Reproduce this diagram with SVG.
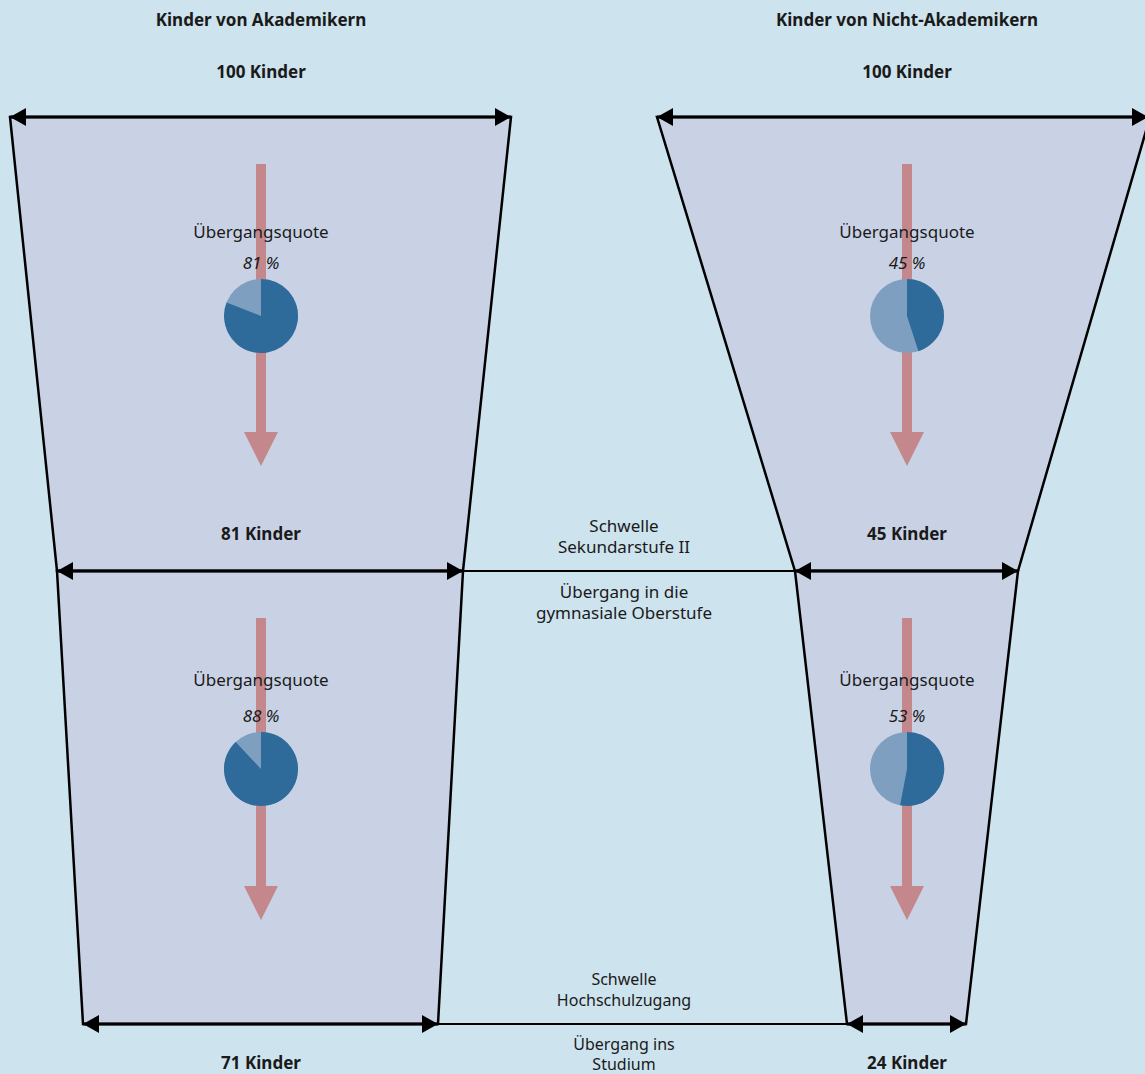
<svg xmlns="http://www.w3.org/2000/svg" width="1145" height="1074" viewBox="0 0 1145 1074">
<style>
.t{font-family:"Noto Sans","Open Sans","Liberation Sans",sans-serif;font-size:17px;fill:#1a1a1a;text-anchor:middle}
.s{font-size:16px}
.b{font-weight:bold;font-size:17px}
.i{font-style:italic}
.trap{fill:#c9d2e5;stroke:#000;stroke-width:2.5;stroke-linejoin:miter}
.dim{stroke:#000;stroke-width:3;fill:none;marker-start:url(#ah);marker-end:url(#ah)}
.thin{stroke:#000;stroke-width:2;fill:none}
.flow{fill:#c4878c}
.pl{fill:#7f9fc0}
.pd{fill:#2e6a9a}
</style>
<defs>
<marker id="ah" viewBox="0 0 16 18" refX="16" refY="9" markerWidth="16" markerHeight="18" markerUnits="userSpaceOnUse" orient="auto-start-reverse">
<path d="M0,0 L16,9 L0,18 z" fill="#000"/>
</marker>
</defs>
<rect width="1145" height="1074" fill="#cde3ee"/>
<g id="akad-top">
<polygon class="trap" points="10,117 511,117 463,571 57,571"/>
<polygon class="flow" points="256,164 266,164 266,432 278,432 261,466 244,432 256,432"/>
<text class="t" x="261" y="238">Übergangsquote</text>
<text class="t i" x="261" y="269">81 %</text>
<circle class="pl" cx="261" cy="316" r="37"/>
<path class="pd" d="M261,316 L261,279 A37,37 0 1 1 226.6,302.4 Z"/>
</g>
<g id="akad-bottom">
<polygon class="trap" points="57,571 463,571 438,1024 83,1024"/>
<polygon class="flow" points="256,618 266,618 266,886 278,886 261,920 244,886 256,886"/>
<text class="t" x="261" y="686">Übergangsquote</text>
<text class="t i" x="261" y="722">88 %</text>
<circle class="pl" cx="261" cy="769" r="37"/>
<path class="pd" d="M261,769 L261,732 A37,37 0 1 1 235.7,742.0 Z"/>
</g>
<g id="nicht-top">
<polygon class="trap" points="657,117 1150,117 1018,571 795,571"/>
<polygon class="flow" points="902,164 912,164 912,432 924,432 907,466 890,432 902,432"/>
<text class="t" x="907" y="238">Übergangsquote</text>
<text class="t i" x="907" y="269">45 %</text>
<circle class="pl" cx="907" cy="316" r="37"/>
<path class="pd" d="M907,316 L907,279 A37,37 0 0 1 918.4,351.2 Z"/>
</g>
<g id="nicht-bottom">
<polygon class="trap" points="795,571 1018,571 966,1024 847,1024"/>
<polygon class="flow" points="902,618 912,618 912,886 924,886 907,920 890,886 902,886"/>
<text class="t" x="907" y="686">Übergangsquote</text>
<text class="t i" x="907" y="722">53 %</text>
<circle class="pl" cx="907" cy="769" r="37"/>
<path class="pd" d="M907,769 L907,732 A37,37 0 1 1 900.1,805.3 Z"/>
</g>
<g id="connectors">
<line class="dim" x1="10" y1="117" x2="511" y2="117"/>
<line class="dim" x1="57" y1="571" x2="463" y2="571"/>
<line class="dim" x1="83" y1="1024" x2="438" y2="1024"/>
<line class="dim" x1="657" y1="117" x2="1148" y2="117"/>
<line class="dim" x1="795" y1="571" x2="1018" y2="571"/>
<line class="dim" x1="847" y1="1024" x2="966" y2="1024"/>
<line class="thin" x1="463" y1="571" x2="795" y2="571"/>
<line class="thin" x1="438" y1="1024" x2="847" y2="1024"/>
</g>
<g id="labels">
<text class="t b" x="261" y="26">Kinder von Akademikern</text>
<text class="t b" x="261" y="78">100 Kinder</text>
<text class="t b" x="261" y="540">81 Kinder</text>
<text class="t b" x="261" y="1069">71 Kinder</text>
<text class="t b" x="907" y="26">Kinder von Nicht-Akademikern</text>
<text class="t b" x="907" y="78">100 Kinder</text>
<text class="t b" x="907" y="540">45 Kinder</text>
<text class="t b" x="907" y="1069">24 Kinder</text>
<text class="t" x="624" y="532">Schwelle</text>
<text class="t" x="624" y="553">Sekundarstufe II</text>
<text class="t" x="624" y="598">Übergang in die</text>
<text class="t" x="624" y="619">gymnasiale Oberstufe</text>
<text class="t s" x="624" y="985">Schwelle</text>
<text class="t s" x="624" y="1006">Hochschulzugang</text>
<text class="t s" x="624" y="1050">Übergang ins</text>
<text class="t s" x="624" y="1070">Studium</text>
</g>
</svg>
